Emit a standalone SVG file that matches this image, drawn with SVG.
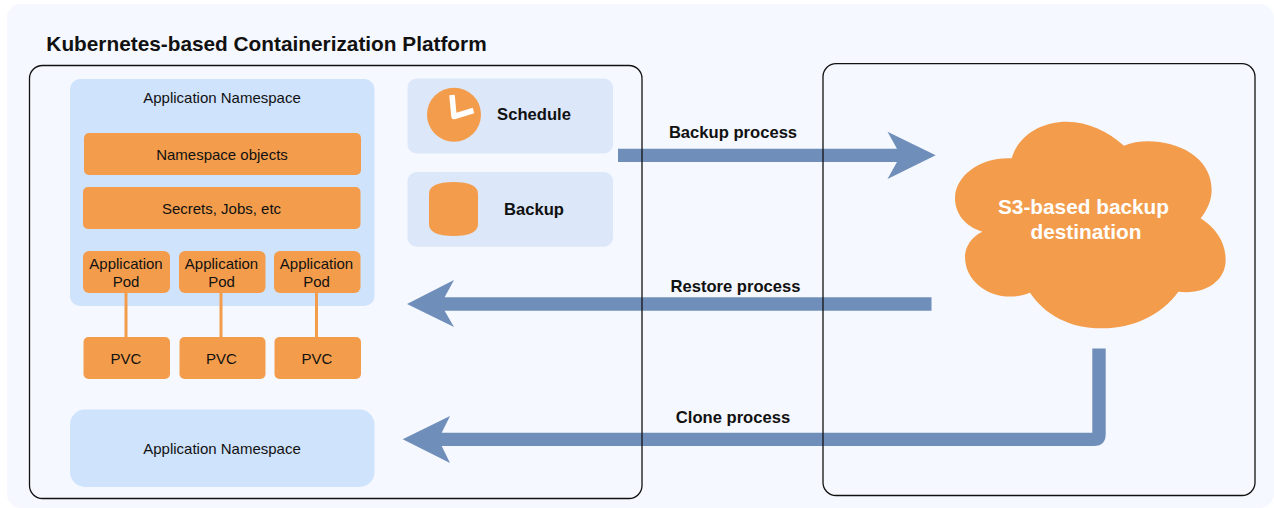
<svg xmlns="http://www.w3.org/2000/svg" width="1274" height="508" viewBox="0 0 1274 508">
<style>
text{font-family:"Liberation Sans",Arial,sans-serif;text-anchor:middle;fill:#111}
.org{fill:#f39d4c}
.ns{fill:#cfe3fc}
.card{fill:#dce7f9}
.box{fill:none;stroke:#111;stroke-width:1.3}
.t{font-size:15px}
.b{font-size:16.6px;font-weight:700}
.w{font-size:20.8px;font-weight:700;fill:#fff}
.arrow{fill:#708eba}
.link{stroke:#f39d4c;stroke-width:3;fill:none}
</style>
<rect width="1274" height="508" fill="#fff"/>
<rect id="panel" x="7" y="4" width="1267" height="504" rx="14" fill="#f5f8fe"/>
<text id="title" x="266.500" y="50.500" style="font-size:20.800px;font-weight:700">Kubernetes-based Containerization Platform</text>
<g id="namespace-1">
<rect class="ns" x="70" y="79" width="304.500" height="227" rx="10"/>
<text class="t" x="222" y="102.500">Application Namespace</text>
</g>
<g id="namespace-objects"><rect class="org" x="84" y="133" width="277" height="42" rx="5"/><text class="t" x="222" y="159.500">Namespace objects</text></g>
<g id="secrets"><rect class="org" x="83" y="187" width="277.500" height="42" rx="5"/><text class="t" x="221.500" y="213.500">Secrets, Jobs, etc</text></g>
<g id="connectors">
<path class="link" d="M126 293V337"/>
<path class="link" d="M221 293V337"/>
<path class="link" d="M316.500 293V337"/>
<path class="arrow" d="M618 148.700H897L887.500 131.700L935.700 155.300L887.500 179L897 162H618Z"/>
<path class="arrow" d="M931.500 297.300H444.600L454 280L407 304L454 327L444.600 310.700H931.500Z"/>
<path class="arrow" d="M1092.300 348.500V432.700H441.700L450 416L402.700 439.300L450 463L441.700 446H1094Q1105.700 446 1105.700 434V348.500Z"/>
</g>
<g id="pod-1"><rect class="org" x="83" y="251" width="87" height="42" rx="6"/><text class="t" x="126" y="269">Application</text><text class="t" x="126" y="287">Pod</text></g>
<g id="pod-2"><rect class="org" x="179" y="251" width="86.500" height="42" rx="6"/><text class="t" x="221.500" y="269">Application</text><text class="t" x="221.500" y="287">Pod</text></g>
<g id="pod-3"><rect class="org" x="274" y="251" width="86.500" height="42" rx="6"/><text class="t" x="316.500" y="269">Application</text><text class="t" x="316.500" y="287">Pod</text></g>
<g id="pvc-1"><rect class="org" x="83.500" y="337" width="86.500" height="42" rx="5"/><text class="t" x="126" y="363.500">PVC</text></g>
<g id="pvc-2"><rect class="org" x="179.500" y="337" width="86" height="42" rx="5"/><text class="t" x="221.500" y="363.500">PVC</text></g>
<g id="pvc-3"><rect class="org" x="274.500" y="337" width="86.500" height="42" rx="5"/><text class="t" x="317" y="363.500">PVC</text></g>
<g id="namespace-2"><rect class="ns" x="70" y="409.500" width="304.500" height="77.500" rx="15"/><text class="t" x="222" y="454">Application Namespace</text></g>
<g id="schedule">
<rect class="card" x="407.500" y="78.500" width="205.500" height="75" rx="9"/>
<ellipse class="org" cx="454" cy="114.700" rx="27" ry="27"/>
<path d="M452 95L454 116.500L473.500 110.500" fill="none" stroke="#fff" stroke-width="5.500" stroke-linejoin="round"/>
<text class="b" x="534" y="120">Schedule</text>
</g>
<g id="backup">
<rect class="card" x="407.500" y="172" width="205.500" height="74.700" rx="9"/>
<path class="org" d="M429 194Q429 182 453.500 182Q478 182 478 194V224Q478 236 453.500 236Q429 236 429 224Z"/>
<text class="b" x="534" y="214.500">Backup</text>
</g>
<g id="s3-cloud">
<path class="org" transform="translate(920 110) scale(.33333)" d="M275 145C295 75 365 35 440 35C505 35 565 65 612 107C700 70 875 110 875 240C875 270 862 300 842 325C890 355 917 400 917 450C917 510 860 555 775 545C725 615 640 655 545 655C450 655 375 615 330 548C240 585 135 530 135 440C135 410 155 380 187 365C135 350 105 310 105 265C105 195 185 140 275 145Z"/>
<text class="w" x="1083.500" y="213.500">S3-based backup</text>
<text class="w" x="1086" y="238.500">destination</text>
</g>
<text class="b" x="733" y="138" id="label-backup">Backup process</text>
<text class="b" x="735.500" y="292" id="label-restore">Restore process</text>
<text class="b" x="733" y="423" id="label-clone">Clone process</text>
<g id="platform-box"><rect class="box" x="29.500" y="65.500" width="612.500" height="433" rx="13"/></g>
<g id="destination-box"><rect class="box" x="823" y="63.700" width="432" height="431.800" rx="13"/></g>
</svg>
